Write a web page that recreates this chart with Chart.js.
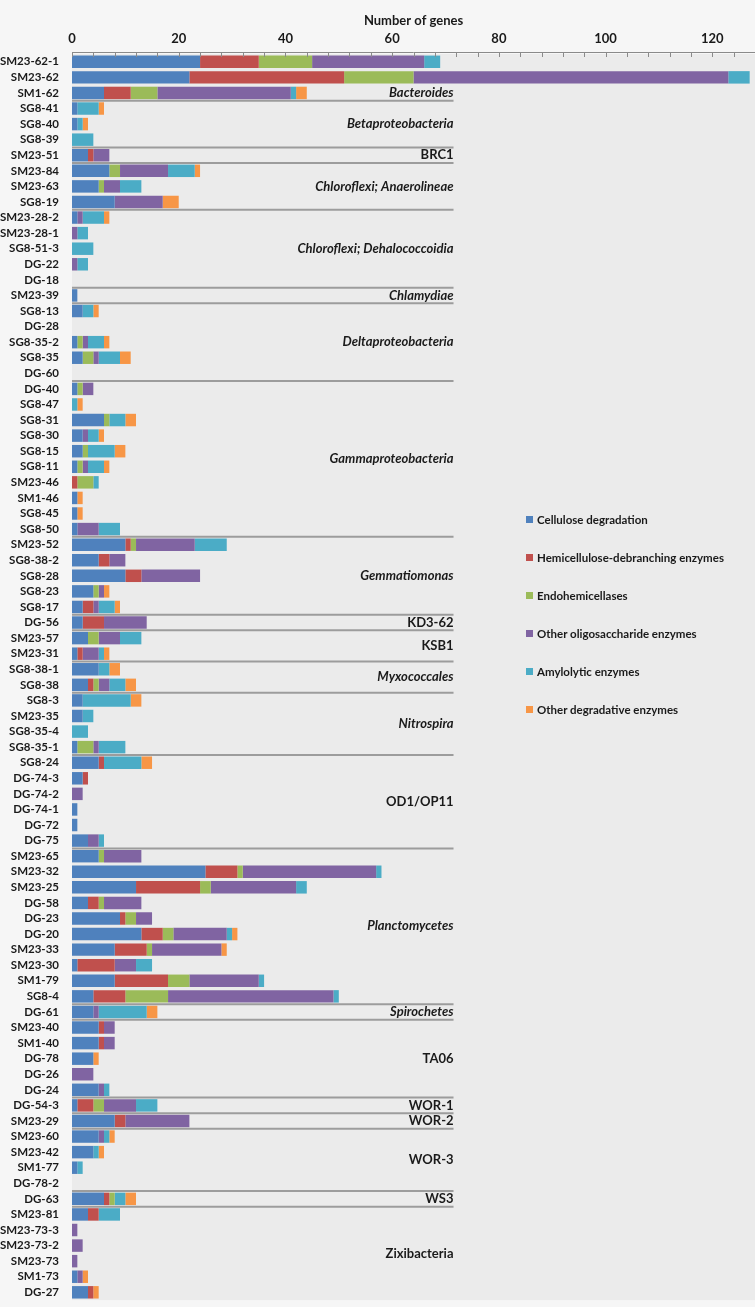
<!DOCTYPE html>
<html lang="en">
<head>
<meta charset="UTF-8">
<title>Number of genes</title>
<script src="https://cdn.jsdelivr.net/npm/chart.js"></script>
<style>
    html, body { margin: 0; padding: 0; overflow: hidden; background: #f6f6f6; }
    body { width: 755px; height: 1307px; position: relative; font-family: Lato, "Open Sans", sans-serif; }
    .chart-box { position: absolute; left: 0; top: 0; width: 755px; height: 1312px; }
    .legend { position: absolute; left: 526px; top: 513px; }
    .legend div { height: 38px; font-weight: bold; font-size: 11.5px; color: #1a1a1a; white-space: nowrap; }
    .legend span { display: inline-block; width: 7px; height: 7px; margin-right: 4px; vertical-align: 1px; }
</style>
</head>
<body>
<div class="chart-box"><canvas id="genesChart"></canvas></div>
<div class="legend" id="legend"></div>

<script>
// genomes, top to bottom
const genomes = ['SM23-62-1','SM23-62','SM1-62','SG8-41','SG8-40','SG8-39','SM23-51','SM23-84','SM23-63','SG8-19',
    'SM23-28-2','SM23-28-1','SG8-51-3','DG-22','DG-18','SM23-39','SG8-13','DG-28','SG8-35-2','SG8-35',
    'DG-60','DG-40','SG8-47','SG8-31','SG8-30','SG8-15','SG8-11','SM23-46','SM1-46','SG8-45',
    'SG8-50','SM23-52','SG8-38-2','SG8-28','SG8-23','SG8-17','DG-56','SM23-57','SM23-31','SG8-38-1',
    'SG8-38','SG8-3','SM23-35','SG8-35-4','SG8-35-1','SG8-24','DG-74-3','DG-74-2','DG-74-1','DG-72',
    'DG-75','SM23-65','SM23-32','SM23-25','DG-58','DG-23','DG-20','SM23-33','SM23-30','SM1-79',
    'SG8-4','DG-61','SM23-40','SM1-40','DG-78','DG-26','DG-24','DG-54-3','SM23-29','SM23-60',
    'SM23-42','SM1-77','DG-78-2','DG-63','SM23-81','SM23-73-3','SM23-73-2','SM23-73','SM1-73','DG-27'];

const cellulose = [24,22,6,1,1,0,3,7,5,8, 1,0,0,0,0,1,2,0,1,2, 0,1,0,6,2,2,1,0,1,1,
    1,10,5,10,4,2,2,3,1,5, 3,2,2,0,1,5,2,0,1,1, 3,5,25,12,3,9,13,8,1,8,
    4,4,5,5,4,0,5,1,8,5, 4,1,0,6,3,0,0,0,1,3];
const hemicelluloseDebranching = [11,29,5,0,0,0,1,0,0,0, 0,0,0,0,0,0,0,0,0,0, 0,0,0,0,0,0,0,1,0,0,
    0,1,2,3,0,2,4,0,1,0, 1,0,0,0,0,1,1,0,0,0, 0,0,6,12,2,1,4,6,7,10,
    6,0,1,1,0,0,0,3,2,0, 0,0,0,1,2,0,0,0,0,1];
const endohemicellulases = [10,13,5,0,0,0,0,2,1,0, 0,0,0,0,0,0,0,0,1,2, 0,1,0,1,0,1,1,3,0,0,
    0,1,0,0,1,0,0,2,0,0, 1,0,0,0,3,0,0,0,0,0, 0,1,1,2,1,2,2,1,0,4,
    8,0,0,0,0,0,0,2,0,0, 0,0,0,1,0,0,0,0,0,0];
const otherOligosaccharide = [21,59,25,0,0,0,3,9,3,9, 1,1,0,1,0,0,0,0,1,1, 0,2,0,0,1,0,1,0,0,0,
    4,11,3,11,1,1,8,4,3,0, 2,0,0,0,1,0,0,2,0,0, 2,7,25,16,7,3,10,13,4,13,
    31,1,2,2,0,4,1,6,12,1, 0,0,0,0,0,1,2,1,1,0];
const amylolytic = [3,4,1,4,1,4,0,5,4,0, 4,2,4,2,0,0,2,0,3,4, 0,0,1,3,2,5,3,1,0,0,
    4,6,0,0,0,3,0,4,1,2, 3,9,2,3,5,7,0,0,0,0, 1,0,1,2,0,0,1,0,3,1,
    1,9,0,0,0,0,1,4,0,1, 1,1,0,2,4,0,0,0,0,0];
const otherDegradative = [0,0,2,1,1,0,0,1,0,3, 1,0,0,0,0,0,1,0,1,2, 0,0,1,2,1,2,1,0,1,1,
    0,0,0,0,1,1,0,0,1,2, 2,2,0,0,0,2,0,0,0,0, 0,0,0,0,0,0,1,1,0,0,
    0,2,0,0,1,0,0,0,0,1, 1,0,0,2,0,0,0,0,1,1];

const seriesNames = ['Cellulose degradation','Hemicellulose-debranching enzymes','Endohemicellases',
    'Other oligosaccharide enzymes','Amylolytic enzymes','Other degradative enzymes'];
const seriesColors = ['#4f81bd','#c0504d','#9bbb59','#8064a2','#4bacc6','#f79646'];

// taxonomic groups, in order, with number of genomes each
const groupNames = ['Bacteroides','Betaproteobacteria','BRC1','Chloroflexi; Anaerolineae','Chloroflexi; Dehalococcoidia',
    'Chlamydiae','Deltaproteobacteria','Gammaproteobacteria','Gemmatiomonas','KD3-62','KSB1','Myxococcales',
    'Nitrospira','OD1/OP11','Planctomycetes','Spirochetes','TA06','WOR-1','WOR-2','WOR-3','WS3','Zixibacteria'];
const groupSizes = [3,3,1,3,5,1,5,10,5,1,2,2,4,6,10,1,5,1,1,4,1,6];
const groupItalic = [true,true,false,true,true,true,true,true,true,false,false,true,
    true,false,true,true,false,false,false,false,false,false];

const xTicks = [0,20,40,60,80,100,120];

const FONT = 'Lato, "Open Sans", sans-serif';

const allSeries = [cellulose, hemicelluloseDebranching, endohemicellulases, otherOligosaccharide, amylolytic, otherDegradative];

// html legend
const legendEl = document.getElementById('legend');
seriesNames.forEach((name, i) => {
    const row = document.createElement('div');
    row.innerHTML = '<span style="background:' + seriesColors[i] + '"></span>' + name;
    legendEl.appendChild(row);
});

const groupPlugin = {
    id: 'groups',
    beforeDraw(chart) {
        const { ctx, chartArea: a } = chart;
        ctx.save();
        ctx.fillStyle = '#ebebeb';
        ctx.fillRect(a.left, a.top, a.right - a.left, a.bottom - a.top);
        ctx.restore();
    },
    afterDatasetsDraw(chart) {
        const { ctx, chartArea: a, scales } = chart;
        const y = scales.y, x = scales.x;
        const band = (a.bottom - a.top) / genomes.length;
        const lineEnd = x.getPixelForValue(71.5);
        ctx.save();

        // axis line and tick marks
        ctx.strokeStyle = '#8a8a8a';
        ctx.lineWidth = 1;
        ctx.beginPath();
        ctx.moveTo(a.left, a.top - 1.5);
        ctx.lineTo(a.right, a.top - 1.5);
        for (let v = 0; v <= 128; v += 4) {
            const px = Math.round(x.getPixelForValue(v)) + 0.5;
            ctx.moveTo(px, a.top - 1.5);
            ctx.lineTo(px, a.top + 3);
        }
        ctx.stroke();

        let start = 0;
        groupNames.forEach((name, g) => {
            const end = start + groupSizes[g];
            if (g < groupNames.length - 1) {
                const ly = y.getPixelForValue(end - 1) + band / 2;
                ctx.strokeStyle = '#9c9c9c';
                ctx.lineWidth = 2;
                ctx.beginPath();
                ctx.moveTo(a.left, ly);
                ctx.lineTo(lineEnd, ly);
                ctx.stroke();
            }
            let mid = (start + end - 1) / 2;
            if (g === 0) mid = end - 1;
            const ty = y.getPixelForValue(Math.floor(mid)) + (mid % 1) * band;
            ctx.font = (groupItalic[g] ? 'italic ' : '') + 'bold 13px ' + FONT;
            ctx.fillStyle = '#1a1a1a';
            ctx.textAlign = 'right';
            ctx.textBaseline = 'middle';
            ctx.fillText(name, lineEnd, ty);
            start = end;
        });
        ctx.restore();
    }
};

new Chart(document.getElementById('genesChart'), {
    type: 'bar',
    data: {
        labels: genomes,
        datasets: allSeries.map((d, i) => ({
            label: seriesNames[i],
            data: d,
            backgroundColor: seriesColors[i],
            borderWidth: 0,
            barPercentage: 0.8,
            categoryPercentage: 1
        }))
    },
    options: {
        indexAxis: 'y',
        responsive: true,
        maintainAspectRatio: false,
        animation: false,
        layout: { padding: 0 },
        plugins: { legend: { display: false }, tooltip: { enabled: false } },
        scales: {
            x: {
                position: 'top',
                stacked: true,
                min: 0,
                max: 128,
                grid: { display: false, drawTicks: false },
                border: { display: false },
                afterFit(s) { s.height = 54; },
                afterBuildTicks(s) { s.ticks = xTicks.map(v => ({ value: v })); },
                ticks: {
                    autoSkip: false,
                    maxRotation: 0,
                    padding: 7,
                    color: '#1a1a1a',
                    font: { family: FONT, size: 13, weight: 'bold' }
                },
                title: {
                    display: true,
                    text: 'Number of genes',
                    color: '#1a1a1a',
                    padding: { top: 13, bottom: 0 },
                    font: { family: FONT, size: 13, weight: 'bold' }
                }
            },
            y: {
                stacked: true,
                grid: { display: false },
                border: { display: false },
                afterFit(s) { s.width = 72; },
                ticks: {
                    autoSkip: false,
                    padding: 5,
                    color: '#1a1a1a',
                    font: { family: FONT, size: 11.5, weight: 'bold' }
                }
            }
        }
    },
    plugins: [groupPlugin]
});
</script>
</body>
</html>
